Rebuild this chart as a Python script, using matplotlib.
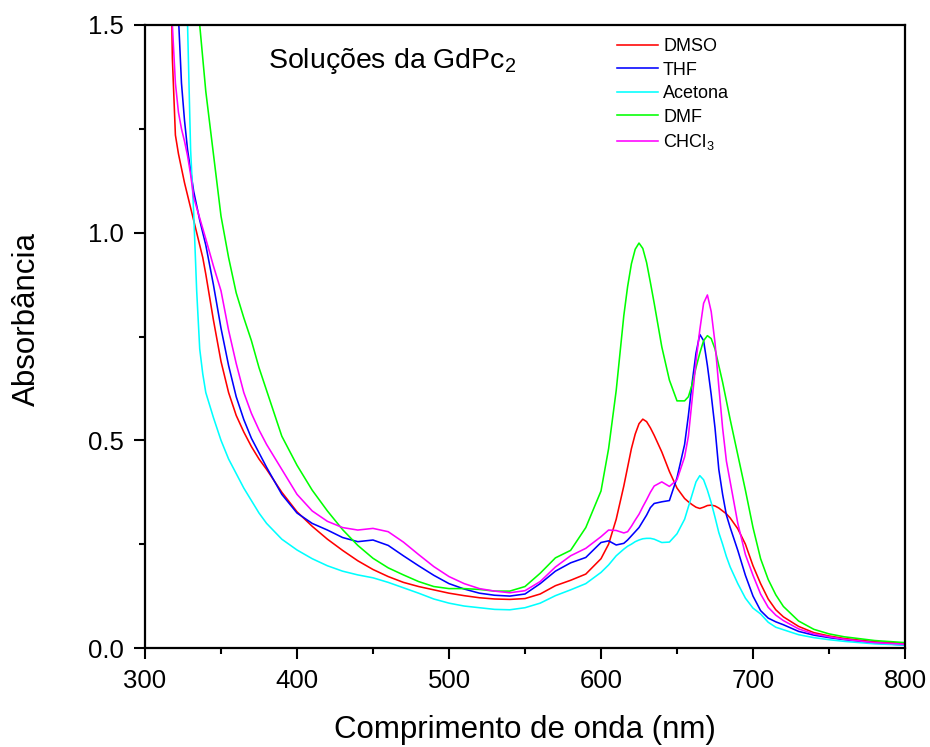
import numpy as np
import matplotlib
matplotlib.use("Agg")
import matplotlib.pyplot as plt
import matplotlib.ticker as ticker

plt.rcParams['font.family'] = ['Liberation Sans', 'DejaVu Sans']
plt.rcParams['mathtext.fontset'] = 'custom'
plt.rcParams['mathtext.rm'] = 'Liberation Sans'
plt.rcParams['mathtext.it'] = 'Liberation Sans'

# comprimento de onda (nm)
wl = [316, 318, 320, 322, 324, 326, 328, 330, 332, 334, 336, 338, 340,
      345, 350, 355, 360, 365, 370, 375, 380,
      390, 400, 410, 420, 430, 440, 450, 460, 470, 480, 490, 500, 510, 520,
      530, 540, 550, 560, 570, 580, 590, 600,
      605, 610, 615, 617.5, 620, 622.5, 625, 627.5, 630, 632.5, 635, 640,
      645, 650, 655, 657.5, 660, 662.5, 665, 667.5, 670, 672.5, 675, 677.5,
      680, 682.5, 685, 690, 695, 700, 705, 710, 715, 720,
      730, 740, 750, 760, 780, 800]

dmso = [1.90, 1.42, 1.235, 1.19, 1.155, 1.12, 1.09, 1.06, 1.03, 1.00, 0.97, 0.94, 0.90,
        0.79, 0.69, 0.615, 0.56, 0.52, 0.485, 0.455, 0.43,
        0.375, 0.328, 0.293, 0.262, 0.235, 0.21, 0.189, 0.172, 0.158, 0.148, 0.14, 0.132, 0.126, 0.121,
        0.118, 0.117, 0.119, 0.13, 0.15, 0.163, 0.178, 0.215,
        0.25, 0.31, 0.39, 0.435, 0.48, 0.515, 0.54, 0.551, 0.545, 0.53, 0.512, 0.472,
        0.425, 0.385, 0.36, 0.352, 0.345, 0.339, 0.336, 0.339, 0.343, 0.344, 0.342, 0.337,
        0.33, 0.323, 0.313, 0.287, 0.25, 0.198, 0.155, 0.118, 0.092, 0.075,
        0.052, 0.037, 0.029, 0.023, 0.015, 0.011]

thf = [2.0, 1.82, 1.65, 1.52, 1.36, 1.27, 1.2, 1.15, 1.10, 1.065, 1.03, 1.0, 0.97,
       0.875, 0.77, 0.68, 0.605, 0.55, 0.505, 0.47, 0.435,
       0.37, 0.325, 0.30, 0.284, 0.266, 0.256, 0.26, 0.247, 0.222, 0.198, 0.175, 0.155, 0.142, 0.132,
       0.127, 0.125, 0.13, 0.155, 0.185, 0.205, 0.218, 0.254,
       0.258, 0.248, 0.252, 0.26, 0.27, 0.28, 0.29, 0.305, 0.32, 0.338, 0.348, 0.352,
       0.355, 0.41, 0.49, 0.56, 0.64, 0.71, 0.755, 0.74, 0.68, 0.61, 0.53, 0.43,
       0.37, 0.32, 0.29, 0.235, 0.175, 0.125, 0.09, 0.072, 0.063, 0.056,
       0.04, 0.031, 0.025, 0.02, 0.012, 0.007]

acetona = [3.0, 3.0, 3.0, 3.0, 2.8, 2.2, 1.5, 1.2, 1.05, 0.86, 0.72, 0.66, 0.615,
           0.555, 0.50, 0.455, 0.42, 0.385, 0.355, 0.325, 0.30,
           0.262, 0.236, 0.215, 0.198, 0.185, 0.176, 0.169, 0.158, 0.145, 0.132, 0.118, 0.108, 0.101, 0.097,
           0.093, 0.092, 0.097, 0.108, 0.126, 0.14, 0.155, 0.182,
           0.20, 0.222, 0.238, 0.245, 0.25, 0.256, 0.26, 0.263, 0.264, 0.264, 0.262, 0.254,
           0.255, 0.275, 0.31, 0.34, 0.37, 0.40, 0.415, 0.405, 0.38, 0.35, 0.315, 0.278,
           0.25, 0.22, 0.195, 0.155, 0.12, 0.096, 0.082, 0.062, 0.05, 0.044,
           0.032, 0.025, 0.02, 0.016, 0.01, 0.007]

dmf = [3.0, 2.85, 2.6, 2.45, 2.3, 2.15, 2.0, 1.85, 1.74, 1.61, 1.5, 1.42, 1.34,
       1.19, 1.04, 0.94, 0.855, 0.795, 0.74, 0.675, 0.62,
       0.51, 0.44, 0.38, 0.33, 0.285, 0.247, 0.216, 0.193, 0.176, 0.16, 0.148, 0.143, 0.143, 0.141,
       0.137, 0.137, 0.148, 0.18, 0.217, 0.235, 0.29, 0.378,
       0.48, 0.62, 0.80, 0.87, 0.925, 0.96, 0.975, 0.962, 0.928, 0.88, 0.83, 0.725,
       0.645, 0.595, 0.595, 0.605, 0.635, 0.675, 0.71, 0.74, 0.752, 0.745, 0.72, 0.68,
       0.64, 0.595, 0.55, 0.465, 0.38, 0.29, 0.215, 0.165, 0.128, 0.10,
       0.065, 0.045, 0.034, 0.027, 0.018, 0.013]

chcl3 = [1.75, 1.5, 1.36, 1.29, 1.25, 1.22, 1.185, 1.14, 1.085, 1.06, 1.035, 1.01, 0.985,
         0.92, 0.86, 0.765, 0.685, 0.615, 0.565, 0.525, 0.49,
         0.43, 0.37, 0.33, 0.305, 0.29, 0.284, 0.288, 0.28, 0.255, 0.225, 0.196, 0.172, 0.155, 0.143,
         0.137, 0.133, 0.138, 0.16, 0.195, 0.222, 0.24, 0.268,
         0.284, 0.283, 0.277, 0.28, 0.293, 0.308, 0.322, 0.34, 0.357, 0.375, 0.39, 0.40,
         0.389, 0.405, 0.46, 0.51, 0.60, 0.69, 0.766, 0.83, 0.85, 0.81, 0.735, 0.63,
         0.53, 0.45, 0.40, 0.30, 0.225, 0.175, 0.13, 0.098, 0.079, 0.066,
         0.046, 0.034, 0.027, 0.021, 0.013, 0.009]

series = [("DMSO", dmso, "#ff0000"),
          ("THF", thf, "#0000ff"),
          ("Acetona", acetona, "#00ffff"),
          ("DMF", dmf, "#00ff00"),
          ("CHCl$_3$", chcl3, "#ff00ff")]

fig = plt.figure(figsize=(9.3, 7.47), dpi=100)
ax = fig.add_axes([145/930, 1-648/747, 760/930, 623/747])

for name, vals, col in series:
    ax.plot(wl, vals, color=col, lw=1.15, label=name)

ax.set_xlim(300, 800)
ax.set_ylim(0, 1.5)
ax.xaxis.set_major_locator(ticker.MultipleLocator(100))
ax.xaxis.set_minor_locator(ticker.MultipleLocator(50))
ax.yaxis.set_major_locator(ticker.MultipleLocator(0.5))
ax.yaxis.set_minor_locator(ticker.MultipleLocator(0.25))
ax.yaxis.set_major_formatter(ticker.FormatStrFormatter('%.1f'))
ax.tick_params(which='both', direction='out', top=False, right=False, width=1.5)
ax.tick_params(which='major', length=8, labelsize=18.5, pad=7)
ax.tick_params(which='minor', length=4)
for s in ax.spines.values():
    s.set_linewidth(1.6)

ax.set_xlabel("Comprimento de onda (nm)", fontsize=22.5)
ax.set_ylabel("Absorbância", fontsize=22.5)
ax.xaxis.set_label_coords(0.5, -0.108)
ax.yaxis.set_label_coords(-0.136, 0.528)

ax.text(381, 1.397, "Soluções da GdPc$_2$", fontsize=20.5, ha='left', va='baseline')

ax.legend(loc='upper left', bbox_to_anchor=(0.621, 0.979), frameon=False,
          fontsize=13, handlelength=2.25, handletextpad=0.3, labelspacing=0.36,
          borderpad=0, borderaxespad=0)

fig.savefig("out.png", dpi=100)
